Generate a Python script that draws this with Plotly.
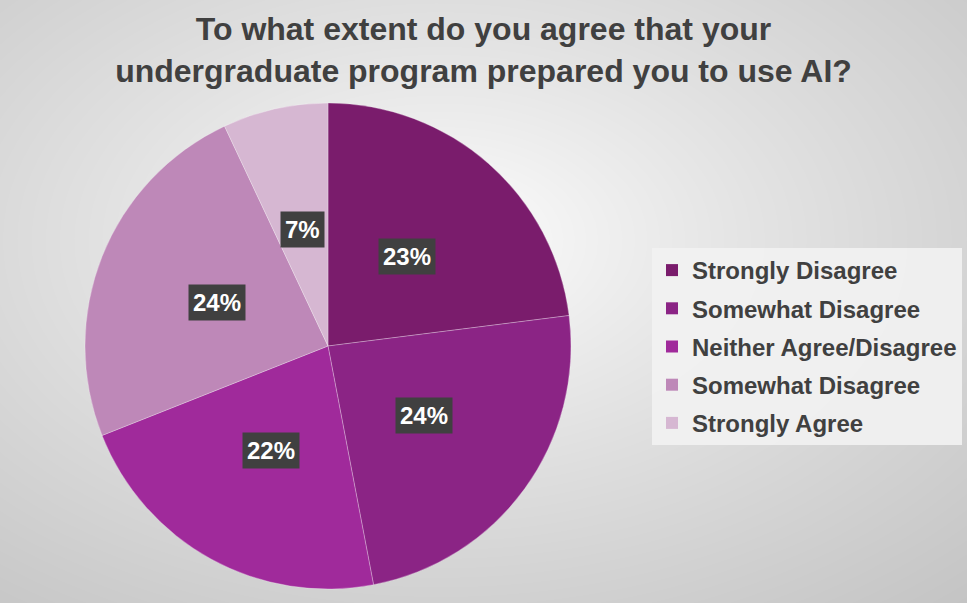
import numpy as np
import plotly.graph_objects as go

# Survey data
labels = ["Strongly Disagree", "Somewhat Disagree", "Neither Agree/Disagree",
          "Somewhat Disagree ", "Strongly Agree"]
values = [23, 24, 22, 24, 7]
colors = ["#7A1C6C", "#8B2485", "#A02A9B", "#BE88B8", "#D6B7D2"]

W, H = 967, 603
TEXT = "#404040"
FONT = "Arial, Liberation Sans"

# pie placement (pixels)
cx, cy, R = 328, 346, 243

fig = go.Figure()

# soft radial background
gx = np.linspace(0, W, 61)
gy = np.linspace(0, H, 39)
X, Y = np.meshgrid(gx, gy)
d = np.sqrt(((X - 440) / W) ** 2 + ((Y - 240) / H) ** 2)
d = (d / d.max()) ** 0.8
fig.add_trace(go.Heatmap(x=gx, y=gy, z=d, zsmooth="best", showscale=False,
                         colorscale=[[0, "#ffffff"], [1, "#c4c4c4"]],
                         hoverinfo="skip"))

fig.add_trace(go.Pie(
    labels=labels, values=values, sort=False, direction="clockwise",
    marker=dict(colors=colors, line=dict(color="rgba(255,255,255,0.35)", width=0.8)),
    textinfo="none", showlegend=False,
    domain=dict(x=[(cx - R) / W, (cx + R) / W],
                y=[(H - cy - R) / H, (H - cy + R) / H]),
))

# legend entries (separate traces so the row spacing can be set)
for lab, col in zip(labels, colors):
    fig.add_trace(go.Scatter(x=[None], y=[None], mode="markers", name=lab.strip(),
                             legendgroup=lab,
                             marker=dict(symbol="square", size=12, color=col)))

# percentage labels in dark boxes
total = sum(values)
cum = np.cumsum([0] + values[:-1])
for v, c0 in zip(values, cum):
    ang = 2 * np.pi * (c0 + v / 2) / total
    px_ = cx + 0.49 * R * np.sin(ang)
    py_ = cy - 0.49 * R * np.cos(ang)
    fig.add_annotation(x=px_ / W, y=(H - py_) / H, xanchor="center", yanchor="middle",
                       xref="paper", yref="paper", showarrow=False,
                       text=f"{v}%", bgcolor="#404040", borderpad=4,
                       font=dict(size=24, color="white", family=FONT, weight="bold"))

fig.update_layout(
    width=W, height=H,
    margin=dict(l=0, r=0, t=0, b=0),
    paper_bgcolor="#ffffff", plot_bgcolor="#ffffff",
    xaxis=dict(visible=False, range=[0, W], domain=[0, 1]),
    yaxis=dict(visible=False, range=[H, 0], domain=[0, 1]),
    title=dict(text="To what extent do you agree that your<br>undergraduate program prepared you to use AI?",
               x=0.5, xanchor="center", y=1 - 40 / H, yanchor="top",
               font=dict(size=32, color=TEXT, family=FONT, weight="bold")),
    legend=dict(x=652 / W, y=1 - 248 / H, xanchor="left", yanchor="top",
                bgcolor="rgba(242,242,242,0.9)", tracegroupgap=4,
                font=dict(size=24, color=TEXT, family=FONT, weight="bold")),
    showlegend=True,
)

fig.write_html("out.html", config={"displayModeBar": False},
               post_script="document.body.style.margin='0';")
